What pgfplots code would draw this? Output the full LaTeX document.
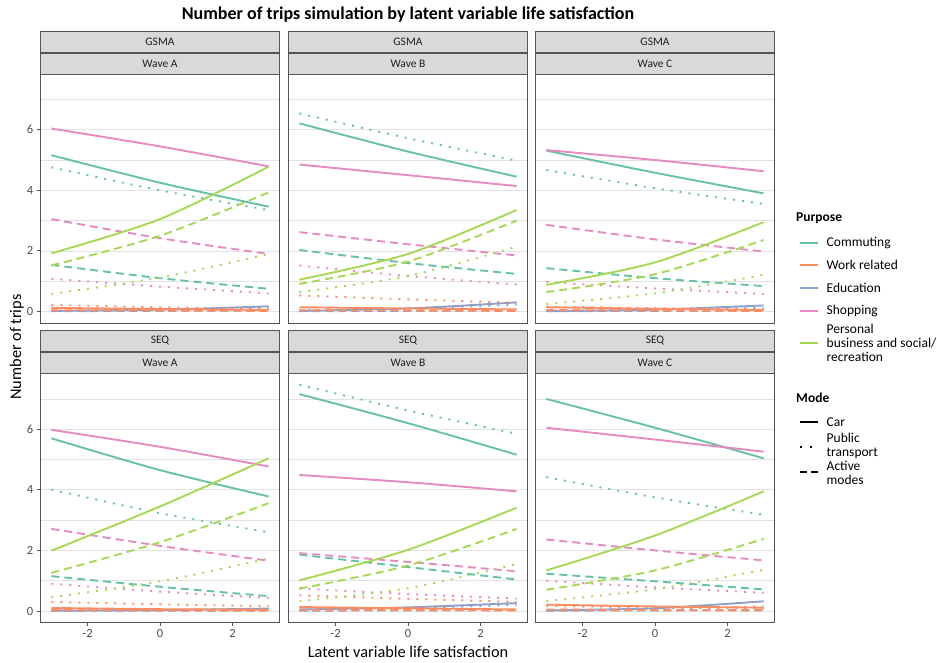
\documentclass[border=0pt]{standalone}
\usepackage{pgfplots}
\pgfplotsset{compat=1.18}
\usepackage{pgfplotstable}
\usepackage{fontspec}
\setmainfont{Carlito}
\definecolor{cC}{HTML}{66C2A5}
\definecolor{cW}{HTML}{FC8D62}
\definecolor{cE}{HTML}{8DA0CB}
\definecolor{cS}{HTML}{E78AC3}
\definecolor{cP}{HTML}{A6D854}
\definecolor{gridc}{HTML}{E2E2E2}
\definecolor{framec}{HTML}{555555}
\definecolor{stripc}{HTML}{D9D9D9}
\definecolor{tickc}{HTML}{4D4D4D}

% columns: C=Commuting W=Work related E=Education S=Shopping P=Personal business; car / PT / active
\pgfplotstableread{
x Ccar CPT Cact Wcar WPT Wact Ecar EPT Eact Scar SPT Sact Pcar PPT Pact
-3 5.16 4.76 1.54 0.12 0.22 0.04 0.02 0.03 0.01 6.04 1.08 3.05 1.92 0.58 1.52
0 4.25 4.00 1.10 0.08 0.14 0.03 0.06 0.06 0.02 5.45 0.82 2.42 3.05 1.12 2.50
3 3.46 3.35 0.75 0.05 0.09 0.02 0.17 0.12 0.04 4.79 0.60 1.90 4.78 1.90 3.93
}\GA
\pgfplotstableread{
x Ccar CPT Cact Wcar WPT Wact Ecar EPT Eact Scar SPT Sact Pcar PPT Pact
-3 6.21 6.54 2.03 0.14 0.53 0.04 0.02 0.04 0.01 4.85 1.52 2.62 1.05 0.64 0.91
0 5.28 5.72 1.60 0.10 0.40 0.03 0.10 0.10 0.02 4.50 1.17 2.22 1.90 1.17 1.65
3 4.45 4.98 1.24 0.07 0.29 0.02 0.30 0.22 0.04 4.14 0.89 1.85 3.35 2.14 3.00
}\GB
\pgfplotstableread{
x Ccar CPT Cact Wcar WPT Wact Ecar EPT Eact Scar SPT Sact Pcar PPT Pact
-3 5.31 4.67 1.43 0.14 0.16 0.05 0.01 0.03 0.01 5.33 0.97 2.86 0.88 0.25 0.64
0 4.58 4.07 1.10 0.09 0.11 0.03 0.06 0.06 0.02 5.00 0.76 2.38 1.62 0.60 1.23
3 3.90 3.55 0.84 0.05 0.07 0.02 0.20 0.12 0.03 4.63 0.58 1.98 2.95 1.21 2.36
}\GC
\pgfplotstableread{
x Ccar CPT Cact Wcar WPT Wact Ecar EPT Eact Scar SPT Sact Pcar PPT Pact
-3 5.70 4.01 1.15 0.10 0.30 0.03 0.01 0.02 0.01 5.98 0.90 2.71 1.99 0.45 1.26
0 4.65 3.23 0.80 0.06 0.22 0.02 0.03 0.04 0.01 5.42 0.64 2.15 3.45 0.98 2.27
3 3.78 2.60 0.49 0.04 0.16 0.01 0.08 0.07 0.02 4.77 0.43 1.66 5.04 1.73 3.56
}\SA
\pgfplotstableread{
x Ccar CPT Cact Wcar WPT Wact Ecar EPT Eact Scar SPT Sact Pcar PPT Pact
-3 7.16 7.47 1.86 0.13 0.52 0.04 0.05 0.05 0.01 4.49 0.74 1.91 1.01 0.32 0.74
0 6.20 6.62 1.45 0.09 0.40 0.03 0.12 0.10 0.02 4.25 0.56 1.62 2.02 0.75 1.50
3 5.16 5.85 1.04 0.05 0.30 0.02 0.26 0.20 0.03 3.95 0.41 1.31 3.41 1.55 2.71
}\SB
\pgfplotstableread{
x Ccar CPT Cact Wcar WPT Wact Ecar EPT Eact Scar SPT Sact Pcar PPT Pact
-3 7.00 4.42 1.23 0.21 0.16 0.05 0.02 0.03 0.01 6.05 1.00 2.36 1.34 0.33 0.70
0 6.05 3.75 0.98 0.15 0.12 0.03 0.09 0.07 0.02 5.66 0.78 2.00 2.49 0.72 1.34
3 5.04 3.18 0.71 0.11 0.08 0.02 0.32 0.15 0.03 5.26 0.60 1.67 3.95 1.36 2.38
}\SC

\tikzset{
  car/.style={solid},
  pt/.style={dash pattern=on 2pt off 7pt},
  act/.style={dash pattern=on 8pt off 5pt},
}

\pgfplotsset{panel/.style={
  scale only axis, width=239pt, height=249pt, anchor=south west,
  xmin=-3.3, xmax=3.3, ymin=-0.38, ymax=7.84,
  xtick={-2,0,2}, ytick={0,2,4,6}, minor ytick={1,3,5,7},
  ymajorgrids, yminorgrids,
  major grid style={draw=gridc, line width=0.8pt},
  minor grid style={draw=gridc, line width=0.5pt},
  axis line style={draw=framec, line width=0.9pt},
  tick style={draw=framec, line width=0.9pt},
  tick align=outside, major tick length=3.5pt, minor tick length=0pt,
  xtick pos=bottom, ytick pos=left,
  /pgf/number format/assume math mode=true,
  tick label style={font=\fontsize{12.5}{12.5}\selectfont, text=tickc},
  yticklabel style={inner sep=0pt, xshift=-3.5pt},
  xticklabel style={inner sep=0pt, yshift=-3.5pt},
  every axis plot/.append style={line width=1.9pt, smooth, mark=none},
}}
\pgfplotsset{noy/.style={yticklabels={}, ytick style={draw=none}},
             nox/.style={xticklabels={}, xtick style={draw=none}}}

\newcommand{\drawlines}[1]{%
\addplot[cE,car] table[y=Ecar]{#1};
\addplot[cE,pt] table[y=EPT]{#1};
\addplot[cE,act] table[y=Eact]{#1};
\addplot[cW,car] table[y=Wcar]{#1};
\addplot[cW,pt] table[y=WPT]{#1};
\addplot[cW,act] table[y=Wact]{#1};
\addplot[cC,car] table[y=Ccar]{#1};
\addplot[cC,pt] table[y=CPT]{#1};
\addplot[cC,act] table[y=Cact]{#1};
\addplot[cS,car] table[y=Scar]{#1};
\addplot[cS,pt] table[y=SPT]{#1};
\addplot[cS,act] table[y=Sact]{#1};
\addplot[cP,car] table[y=Pcar]{#1};
\addplot[cP,pt] table[y=PPT]{#1};
\addplot[cP,act] table[y=Pact]{#1};
}

\newcommand{\strip}[3]{%
 \draw[fill=stripc, draw=framec, line width=0.6pt] ({#1*1pt},{#2*1pt}) rectangle ++(239pt,21pt);
 \node[font=\fontsize{11.5}{11.5}\selectfont, text=black!88] at ({(#1+119.5)*1pt},{(#2+10.5)*1pt}) {#3};
}

\begin{document}
\begin{tikzpicture}
\useasboundingbox (0,0) rectangle (937pt,662pt);

% top row (GSMA)
\begin{axis}[panel, nox, at={(40.5pt,339pt)}]
\drawlines{\GA}
\end{axis}
\begin{axis}[panel, nox, noy, at={(288.5pt,339pt)}]
\drawlines{\GB}
\end{axis}
\begin{axis}[panel, nox, noy, at={(535.5pt,339pt)}]
\drawlines{\GC}
\end{axis}
% bottom row (SEQ)
\begin{axis}[panel, at={(40.5pt,39.5pt)}]
\drawlines{\SA}
\end{axis}
\begin{axis}[panel, noy, at={(288.5pt,39.5pt)}]
\drawlines{\SB}
\end{axis}
\begin{axis}[panel, noy, at={(535.5pt,39.5pt)}]
\drawlines{\SC}
\end{axis}

% strips
\strip{40.5}{610}{GSMA}\strip{40.5}{588}{Wave A}
\strip{288.5}{610}{GSMA}\strip{288.5}{588}{Wave B}
\strip{535.5}{610}{GSMA}\strip{535.5}{588}{Wave C}
\strip{40.5}{310.5}{SEQ}\strip{40.5}{288.5}{Wave A}
\strip{288.5}{310.5}{SEQ}\strip{288.5}{288.5}{Wave B}
\strip{535.5}{310.5}{SEQ}\strip{535.5}{288.5}{Wave C}

% titles
\node[font=\bfseries\fontsize{18}{18}\selectfont] at (408pt,647pt) {Number of trips simulation by latent variable life satisfaction};
\node[font=\fontsize{16.3}{16.3}\selectfont] at (408pt,10.3pt) {Latent variable life satisfaction};
\node[rotate=90, font=\fontsize{16.3}{16.3}\selectfont] at (16.7pt,315pt) {Number of trips};

% legend
\begin{scope}[font=\fontsize{13.5}{14.2}\selectfont]
\node[anchor=west, font=\bfseries\fontsize{13.5}{14.2}\selectfont, inner sep=0pt] at (796pt,443.7pt) {Purpose};
\draw[cC, line width=1.9pt] (800pt,419.3pt) -- (818pt,419.3pt);
\node[anchor=west, inner sep=0pt] at (826.5pt,419.3pt) {Commuting};
\draw[cW, line width=1.9pt] (800pt,397pt) -- (818pt,397pt);
\node[anchor=west, inner sep=0pt] at (826.5pt,397pt) {Work related};
\draw[cE, line width=1.9pt] (800pt,374pt) -- (818pt,374pt);
\node[anchor=west, inner sep=0pt] at (826.5pt,374pt) {Education};
\draw[cS, line width=1.9pt] (800pt,351pt) -- (818pt,351pt);
\node[anchor=west, inner sep=0pt] at (826.5pt,351pt) {Shopping};
\draw[cP, line width=1.9pt] (800pt,319.3pt) -- (818pt,319.3pt);
\node[anchor=west, inner sep=0pt, align=left] at (826.5pt,319.3pt) {Personal\\business and social/\\recreation};

\node[anchor=west, font=\bfseries\fontsize{13.5}{14.2}\selectfont, inner sep=0pt] at (796pt,263.7pt) {Mode};
\draw[black, line width=1.9pt] (800pt,240.3pt) -- (818pt,240.3pt);
\node[anchor=west, inner sep=0pt] at (826.5pt,240.3pt) {Car};
\draw[black, line width=1.9pt, dash pattern=on 2pt off 8pt] (800pt,215.3pt) -- (818pt,215.3pt);
\node[anchor=west, inner sep=0pt, align=left] at (826.5pt,215.7pt) {Public\\transport};
\draw[black, line width=1.9pt, dash pattern=on 7pt off 4pt] (800pt,190.3pt) -- (818pt,190.3pt);
\node[anchor=west, inner sep=0pt, align=left] at (826.5pt,189.5pt) {Active\\modes};
\end{scope}
\end{tikzpicture}
\end{document}
